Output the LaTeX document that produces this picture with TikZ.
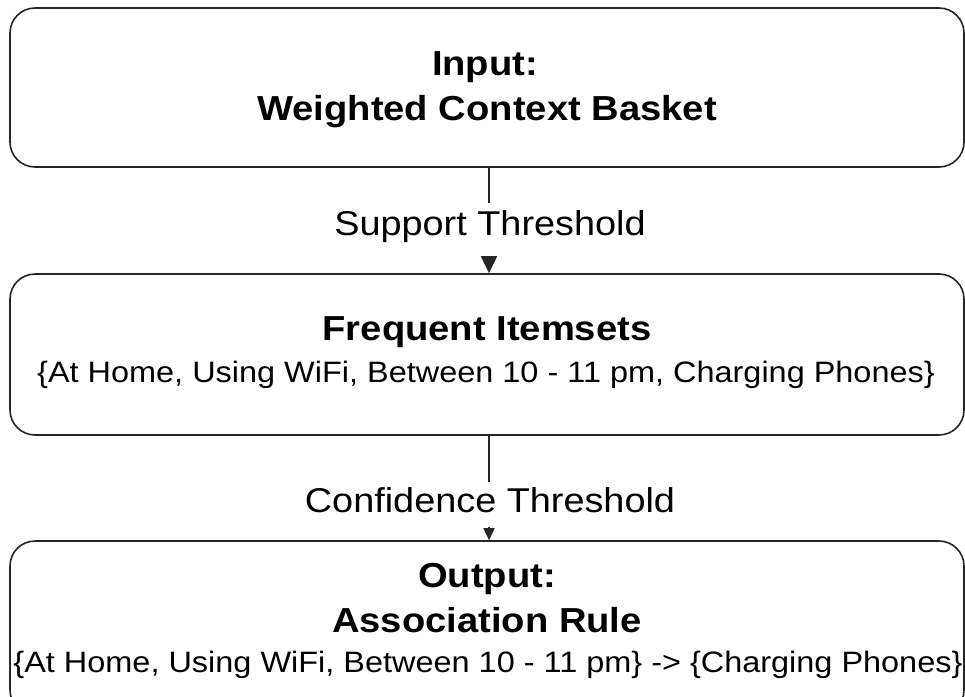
\documentclass[tikz,border=0pt]{standalone}
\usepackage{fontspec}
\setmainfont{Liberation Sans}[FakeStretch=1.1]
\usetikzlibrary{arrows.meta}
\begin{document}
\begin{tikzpicture}[x=1pt,y=-1pt,
  box/.style={draw=black!85, line width=1.6pt, rounded corners=25pt, inner sep=0pt, fill=white},
  boldtxt/.style={anchor=base, inner sep=0pt, font=\bfseries\fontsize{34.7pt}{40pt}\selectfont},
  plaintxt/.style={anchor=base, inner sep=0pt, font=\fontsize{29.5pt}{34pt}\selectfont},
  lbl/.style={anchor=base, fill=white, inner xsep=3pt, inner ysep=0pt, font=\fontsize{34.4pt}{40pt}\selectfont},
  conn/.style={draw=black!85, line width=1.6pt}
]
\clip (0,0) rectangle (965,696);
\useasboundingbox (0,0) rectangle (965,696);

% boxes
\node[box, minimum width=954pt, minimum height=159pt] (b1) at (487,87.5) {};
\node[box, minimum width=954pt, minimum height=161pt] (b2) at (487,354.5) {};
\node[box, minimum width=954pt, minimum height=174pt] (b3) at (487,628) {};

% connectors
\draw[conn, -{Triangle[length=17pt,width=16pt]}] ([xshift=2pt]b1.south) -- ([xshift=2pt]b2.north);
\draw[conn, -{Triangle[length=12pt,width=11pt]}] ([xshift=2pt]b2.south) -- ([xshift=2pt]b3.north);

% connector labels
\node[lbl, text height=32pt, text depth=21pt] (l1) at (490,235) {Support Threshold};
\node[lbl, text height=30pt, text depth=15pt] (l2) at (490,512) {Confidence Threshold};

% box texts
\node[boldtxt] (t1a) at (485,75) {Input:};
\node[boldtxt] (t1b) at (487,120) {Weighted Context Basket};

\node[boldtxt] (t2a) at (487,340) {Frequent Itemsets};
\node[plaintxt] (t2b) at (486,382) {\{At Home, Using WiFi, Between 10 - 11 pm, Charging Phones\}};

\node[boldtxt] (t3a) at (487,587) {Output:};
\node[boldtxt] (t3b) at (487,632) {Association Rule};
\node[plaintxt] (t3c) at (488,672) {\{At Home, Using WiFi, Between 10 - 11 pm\} -> \{Charging Phones\}};
\end{tikzpicture}
\end{document}
